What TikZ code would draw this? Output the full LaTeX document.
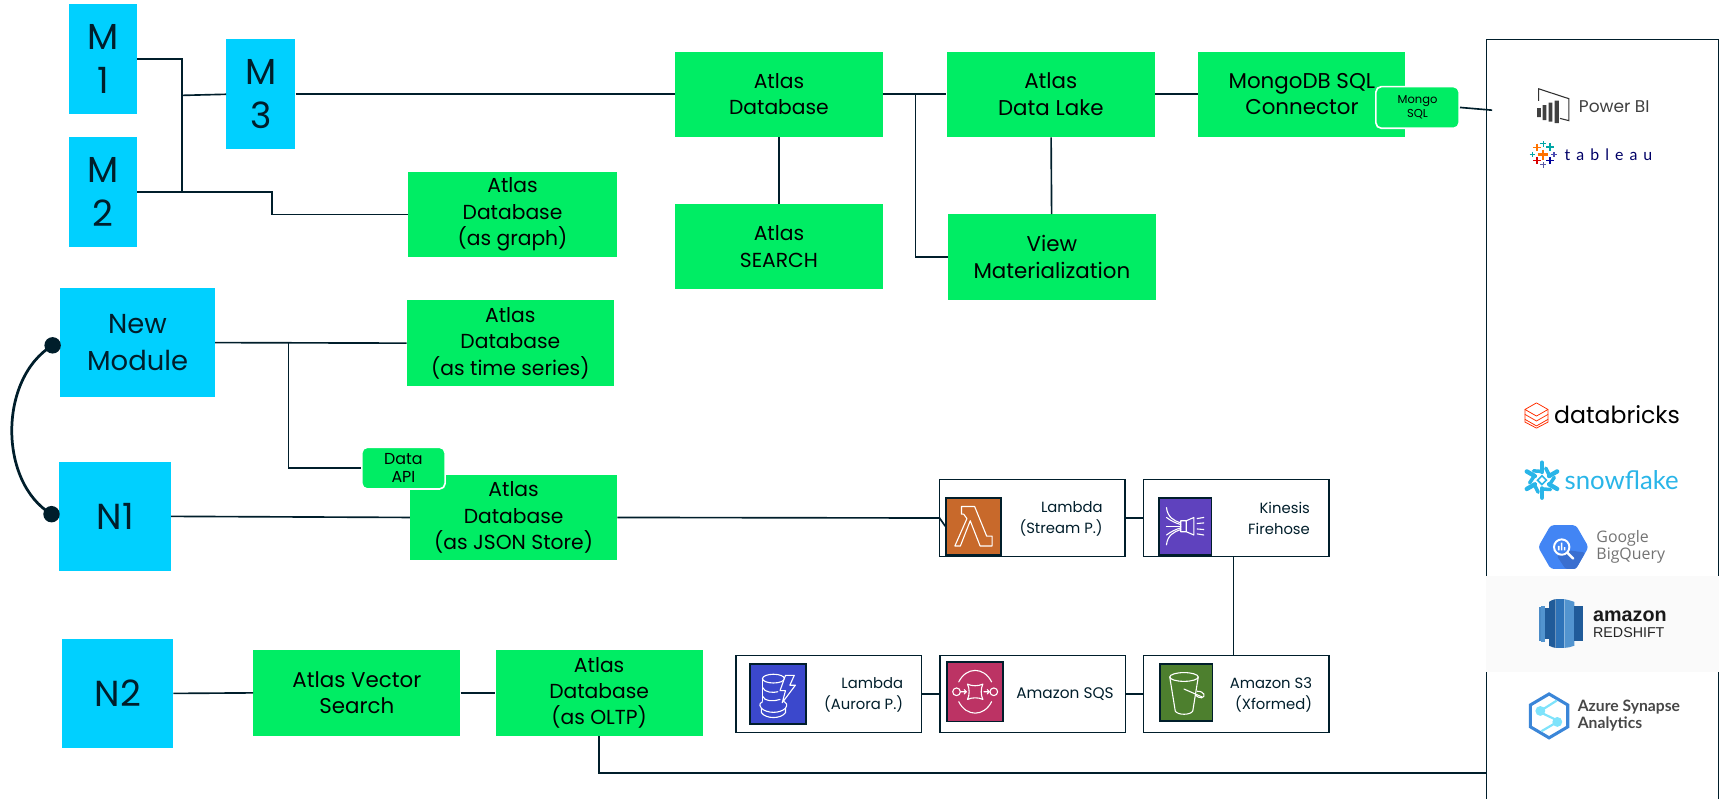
\documentclass[tikz,border=0pt]{standalone}
\usepackage{fontspec}
\setmainfont{Poppins}
\newfontfamily\latofont{Lato}
\newfontfamily\libfont{Liberation Sans}
\newfontfamily\opfont{Open Sans}
\usetikzlibrary{calc,shapes.geometric}
\definecolor{ink}{HTML}{001E2B}
\definecolor{mgreen}{HTML}{00ED64}
\definecolor{mblue}{HTML}{00D0FF}
\definecolor{cLam}{HTML}{C8692B}
\definecolor{cKin}{HTML}{5F42BE}
\definecolor{cAur}{HTML}{3B48CC}
\definecolor{cSqs}{HTML}{BC3364}
\definecolor{cS3}{HTML}{4D7F2E}
\definecolor{snow}{HTML}{29B5E8}
\definecolor{bqb}{HTML}{4285F4}
\definecolor{bqd}{HTML}{3A6FD0}
\definecolor{rsA}{HTML}{205B99}
\definecolor{rsB}{HTML}{2E73B8}
\definecolor{rsC}{HTML}{5294CF}
\definecolor{synA}{HTML}{3B86D8}
\definecolor{synB}{HTML}{7FE3FB}
\tikzset{
 line/.style={draw=ink,line width=1.5pt},
 gbox/.style={fill=mgreen,minimum width=#1,minimum height=78pt,inner sep=0pt,align=center,font=\fontsize{18.5}{24}\selectfont,text=black,execute at begin node={\rule{0pt}{17pt}}},
 gbig/.style={font=\fontsize{19.5}{24}\selectfont},
 bbox/.style={fill=mblue,inner sep=0pt,align=center,text=ink},
 bigt/.style={font=\fontsize{33}{40}\selectfont},
 tag/.style={fill=mgreen,draw=white,line width=1.5pt,rounded corners=5pt,inner sep=0pt,align=center,text=black},
 svc/.style={draw=ink,line width=1.5pt,fill=white,inner sep=0pt,minimum width=169pt,minimum height=70pt},
 ico/.style={draw=ink,line width=1.5pt,inner sep=0pt},
 glyph/.style={draw=white,line width=1pt,line join=round,line cap=round},
 svct/.style={font=\fontsize{13.5}{19}\selectfont,align=right,text=ink,anchor=east,inner sep=0pt},
}
\newcommand{\tabplus}[5]{\draw[#4,line width=#5pt] ($(#1,#2)+(-#3,0)$)--($(#1,#2)+(#3,0)$) ($(#1,#2)+(0,-#3)$)--($(#1,#2)+(0,#3)$);}
\begin{document}
\begin{tikzpicture}[x=1pt,y=-1pt]
\useasboundingbox (0,0) rectangle (1568,729);
% blue
\node[bbox,bigt,minimum width=62pt,minimum height=100pt] (m1) at (94,54) {M\\1};
\node[bbox,bigt,minimum width=62pt,minimum height=100pt] (m2) at (94,175) {M\\2};
\node[bbox,bigt,minimum width=63pt,minimum height=100pt] (m3) at (238,86) {M\\3};
\node[bbox,minimum width=141pt,minimum height=99pt,font=\fontsize{25}{33}\selectfont] (nm) at (125.500,312.500) {New\\Module};
\node[bbox,bigt,minimum width=102pt,minimum height=100pt] (n1) at (105,471) {N1};
\node[bbox,bigt,minimum width=101pt,minimum height=100pt] (n2) at (107.500,632.500) {N2};
% green
\node[gbox=189pt] (db) at (710.500,86) {Atlas\\Database};
\node[gbox=190pt] (search) at (710.500,225) {Atlas\\SEARCH};
\node[gbox=190pt,gbig] (lake) at (958.500,86) {Atlas\\Data Lake};
\node[gbox=189pt,gbig] (view) at (959.500,234.500) {View\\Materialization};
\node[gbox=189pt,gbig] (conn) at (1187.500,86) {MongoDB SQL\\Connector};
\node[gbox=190pt] (graph) at (467.500,195.500) {Atlas\\Database\\(as graph)};
\node[gbox=189pt] (ts) at (465.500,313) {Atlas\\Database\\(as time series)};
\node[gbox=189pt] (json) at (468.500,472) {Atlas\\Database\\(as JSON Store)};
\node[gbox=189pt,gbig] (vec) at (325.500,632) {Atlas Vector\\Search};
\node[gbox=189pt] (oltp) at (546.500,632) {Atlas\\Database\\(as OLTP)};
\node[tag,minimum width=76pt,minimum height=38pt,font=\fontsize{10.500}{13}\selectfont] (msql) at (1293,98) {Mongo\\SQL};
\node[tag,minimum width=76pt,minimum height=38pt,font=\fontsize{14.500}{17}\selectfont] (api) at (368,427) {Data\\API};
% services
\node[svc] (lam) at (941.500,472.500) {};
\node[svc] (kin) at (1127.500,472.500) {};
\node[svc] (aur) at (756,633) {};
\node[svc] (sqs) at (942,633) {};
\node[svc] (s3) at (1127.500,633) {};
\node[ico,fill=cLam,minimum width=50pt,minimum height=52pt] (ilam) at (888,480) {};
\node[ico,fill=cKin,minimum width=48pt,minimum height=52pt] (ikin) at (1081,480) {};
\node[ico,fill=cAur,minimum width=51pt,minimum height=55pt] (iaur) at (709.500,633) {};
\node[ico,fill=cSqs,minimum width=51pt,minimum height=54pt] (isqs) at (889.500,631) {};
\node[ico,fill=cS3,minimum width=48pt,minimum height=52pt] (is3) at (1082,631.500) {};
\node[svct] (tlam) at (1006,473) {Lambda\\(Stream P.)};
\node[svct] (tkin) at (1195,473) {Kinesis\\Firehose};
\node[svct] (taur) at (824,634) {Lambda\\(Aurora P.)};
\node[svct,font=\fontsize{14}{19}\selectfont] (tsqs) at (1016,633) {Amazon SQS};
\node[svct] (ts3) at (1197,634) {Amazon S3\\(Xformed)};
% icon glyphs
\begin{scope}[shift={(ilam.center)}]
\draw[glyph] (-11,-18)--(1,-18)--(12,9)--(17,9)--(17,18)--(6,18)--(-3,-5)--(-12,18)--(-17,18)--(-6,-7)--(-9,-11)--(-11,-11)--cycle;
\end{scope}
\begin{scope}[shift={(ikin.center)}]
\draw[glyph] (-4,-5)--(1,-5)--(1,5)--(-4,5)--cycle (1,-5)--(8,-8)--(8,8)--(1,5);
\draw[glyph] (11,-7)--(17,-8) (11,-2.500)--(17,-3) (11,2.500)--(17,3) (11,7)--(17,8);
\draw[glyph] (-17,-17) .. controls (-16,-8) and (-10,-5) .. (-4,-3);
\draw[glyph] (-17,-8) .. controls (-13,-5) and (-9,-3) .. (-4,-1.500);
\draw[glyph] (-17,0)--(-4,0);
\draw[glyph] (-17,8) .. controls (-13,5) and (-9,3) .. (-4,1.500);
\draw[glyph] (-17,17) .. controls (-16,8) and (-10,5) .. (-4,3);
\end{scope}
\begin{scope}[shift={(iaur.center)}]
\draw[glyph] (-4,-14) ellipse [x radius=10pt,y radius=4pt];
\draw[glyph] (-14,-14)--(-14,6) (6,-14)--(6,-8);
\draw[glyph] (-14,-6) .. controls (-12,-1) and (-4,-1) .. (0,-2);
\draw[glyph] (-14,2) .. controls (-12,7) and (-4,7) .. (2,5);
\draw[glyph] (-14,7) .. controls (-18,9) and (-16,12) .. (-15,13) -- (-15,17) .. controls (-11,23) and (3,23) .. (7,17) -- (7,13) .. controls (9,10) and (8,8) .. (6,7);
\draw[glyph] (-15,13) .. controls (-10,18) and (2,18) .. (7,13);
\draw[glyph,fill=cAur] (7,-17)--(15,-17)--(11,-8)--(16,-8)--(4,8)--(7,-3)--(2,-3)--cycle;
\end{scope}
\begin{scope}[shift={(isqs.center)}]
\draw[glyph] (-15,-9) .. controls (-8,-23) and (8,-23) .. (15,-9);
\draw[glyph] (-15,9) .. controls (-8,23) and (8,23) .. (15,9);
\draw[glyph] (-17,0) circle (3.500pt) (17,0) circle (3.500pt);
\draw[glyph] (-7,-7) .. controls (-3,-5) and (3,-5) .. (7,-7) .. controls (5,-3) and (5,3) .. (7,7) .. controls (3,5) and (-3,5) .. (-7,7) .. controls (-5,3) and (-5,-3) .. (-7,-7) -- cycle;
\draw[glyph] (-13,0)--(-8,0) (-10,-2)--(-8,0)--(-10,2) (8,0)--(13,0) (11,-2)--(13,0)--(11,2);
\end{scope}
\begin{scope}[shift={(is3.center)}]
\draw[glyph] (-2,-14) ellipse [x radius=13pt,y radius=4pt];
\draw[glyph] (-15,-14)--(-10,17) .. controls (-8,21) and (4,21) .. (6,17)--(11,-14);
\draw[glyph] (-2,-3)--(14,4);
\draw[glyph] (10,-1) .. controls (17,-1) and (18,4) .. (14,5) .. controls (12,5) and (10,4) .. (9,3);
\end{scope}
% panel
\coordinate (pa) at (1356,36); \coordinate (pb) at (1567.500,36);
\coordinate (pc) at (1356,729); \coordinate (pd) at (1567.500,729);
\draw[line] (pd)--(pb)--(pa)--(pc);
\node[fill=black!2,minimum width=214pt,minimum height=88pt,inner sep=0pt,anchor=west] (rs) at (1355,569) {};
% connectors
\coordinate (j1) at (166,87); \coordinate (j2) at (166,175);
\coordinate (lb) at (857,472.500);
\coordinate (ms) at (1361,100.500);
\draw[line] (94,54)++(31,0)-|(j1);
\draw[line] (m2.east)-|(248,195.500)--(graph.west);
\draw[line] (j1)--(j2);
\draw[line] (j1)--(m3.west);
\draw[line] (m3.east)--(db.west);
\draw[line] (db.east)--(lake.west);
\draw[line] (lake.east)--(conn.west);
\draw[line] (db)--(search);
\draw[line] (lake)--(view);
\draw[line] (835,86)|-(view.west);
\draw[line] (nm.east)--(ts.west);
\draw[line] (263,312.500)|-(api.west);
\draw[line] (n1.east)--(json.west);
\draw[line] (json.east)--(lb)--(ilam.west);
\draw[line] (lam.east)--(kin.west);
\draw[line] ([xshift=-2.500pt]kin.south)--([xshift=-2.500pt]s3.north);
\draw[line] (aur.east)--(sqs.west);
\draw[line] (sqs.east)--(s3.west);
\draw[line] (n2.east)--(vec.west);
\draw[line] (vec.east)--(oltp.west);
\draw[line] (oltp.south)|-(pc|-0,705);
\draw[line] (msql.east)--(ms);
\coordinate (dt) at (48,315); \coordinate (dbt) at (47,469);
\fill[ink] (dt) circle (7.500pt) (dbt) circle (7.500pt);
\draw[draw=ink,line width=2.500pt] (dt) .. controls (-1.500,345) and (-1.500,440) .. (dbt);
% Power BI
\draw[black!80,line width=1pt] (1403.500,92)--(1403.500,81)--(1431,90)--(1431,110)--(1423,108);
\fill[black!75] (1402,98.600) rectangle (1405.500,106.800) (1407,95.800) rectangle (1410.500,109.500) (1412.500,93.700) rectangle (1416,111) (1418,91.800) rectangle (1422,112.400);
\node[font=\fontsize{15.500}{18}\selectfont,text=black!75,anchor=west,inner sep=0pt] (pbi) at (1440,97) {Power BI};
% tableau
\begin{scope}[shift={(1407.500,141)}]
\tabplus{-5.800}{-6.400}{3.500}{orange!90!red}{1.500}
\tabplus{0}{-9.700}{2.500}{teal!70!cyan}{1}
\tabplus{6.400}{-6.700}{3.500}{teal!70!cyan}{1.500}
\tabplus{-9.700}{0}{2.500}{teal!70!cyan}{1}
\tabplus{10}{0}{2.500}{blue!40!gray}{1}
\tabplus{-5.800}{5.500}{3.500}{red!85!black}{1.500}
\tabplus{6.400}{5.500}{3.500}{blue!60!black}{1.500}
\tabplus{0}{9.400}{2.500}{blue!30!gray}{1}
\tabplus{0}{0}{4.500}{orange!90!red}{2}
\end{scope}
\node[font=\latofont\fontsize{14.500}{16}\selectfont\addfontfeature{LetterSpace=38},text=blue!40!black,anchor=west,inner sep=0pt] (tab) at (1427,141) {tableau};
% databricks
\begin{scope}[shift={(1401.500,379)}]
\draw[red!65!orange,line width=0.7pt,line join=round] (0,-11.500)--(10.500,-5.500)--(0,0.500)--(-10.500,-5.500)--cycle;
\draw[red!65!orange,line width=0.7pt,line join=round] (-10.500,-5.500)--(-10.500,-1)--(0,5)--(10.500,-1)--(10.500,-5.500);
\draw[red!65!orange,line width=0.7pt,line join=round] (-10.500,-1)--(-10.500,3.500)--(0,9.500)--(10.500,3.500)--(10.500,-1);
\draw[red!65!orange,line width=0.7pt,line join=round] (-10.500,3.500)--(-10.500,6)--(0,11.500)--(10.500,6)--(10.500,3.500);
\end{scope}
\node[font=\fontsize{21.500}{24}\selectfont,text=black,anchor=west,inner sep=0pt] (dbk) at (1417.500,378.500) {databricks};
% snowflake
\begin{scope}[shift={(1406.500,438)}]
\foreach \a in {30,90,150,210,270,330}{
 \draw[snow,line width=4pt,line cap=round] (\a:7.500)--(\a:16);
 \draw[snow,line width=3.200pt,line cap=round] (\a+60:8)--($(\a:8)!0.5!(\a+60:8)+(\a:5)$);
}
\draw[snow,line width=1.500pt,fill=white] (0,-4)--(4,0)--(0,4)--(-4,0)--cycle;
\end{scope}
\node[font=\latofont\fontsize{23.500}{26}\selectfont,text=snow,anchor=west,inner sep=0pt] (snowt) at (1427,437.500) {snowflake};
% BigQuery
\begin{scope}[shift={(1426,499)}]
\fill[bqb,rounded corners=3pt] (23,0)--(11.500,-20)--(-11.500,-20)--(-23,0)--(-11.500,20)--(11.500,20)--cycle;
\fill[bqd,rounded corners=2pt] (5,3)--(20,5)--(11.500,20)--(2,20)--(-6,8)--cycle;
\draw[white,line width=1.800pt] (-1.500,0) circle (7pt);
\draw[white,line width=2.200pt,line cap=round] (3.500,5)--(9,10.500);
\fill[white] (-5,-1) rectangle (-3.500,3) (-2.300,-4) rectangle (-0.800,3) (0.400,0) rectangle (1.900,3);
\end{scope}
\node[font=\opfont\fontsize{14.500}{16}\selectfont,align=left,text=black!55,anchor=west,inner sep=0pt] (bq) at (1456,499) {Google\\BigQuery};
% Redshift
\fill[rsC!85!rsA] (1404,553.500) rectangle (1406,584.700);
\fill[rsC] (1406,553) rectangle (1409.300,585.500);
\fill[rsA] (1409.300,555) rectangle (1413,583);
\fill[rsA] (1413,549) .. controls (1416,547) and (1418,546.500) .. (1419,546.500) -- (1419,591) .. controls (1417,591) and (1416,590) .. (1413,589) -- cycle;
\fill[rsB] (1419,546.500) -- (1427,546.500) -- (1427,591) -- (1419,591) -- cycle;
\fill[rsC] (1427,546.500) .. controls (1430,547) and (1433,548) .. (1436,549) -- (1436,589) .. controls (1433,590) and (1430,591) .. (1427,591) -- cycle;
\fill[rsA] (1436,553) rectangle (1444,585);
\node[font=\libfont\bfseries\fontsize{18}{20}\selectfont,text=black!90,anchor=west,inner sep=0pt] (az1) at (1453,562) {amazon};
\node[font=\libfont\fontsize{13}{15}\selectfont,text=black!85,anchor=west,inner sep=0pt] (az2) at (1453,577) {REDSHIFT};
% Synapse
\begin{scope}[shift={(1413,653)}]
\draw[synA,line width=2.800pt,line join=miter] (0,-20)--(17,-10)--(17,10)--(0,20)--(-17,10)--(-17,-10)--cycle;
\draw[synB,line width=2pt] (7,-14)--(-8,-4.500) (7.500,5.500)--(-7,14);
\draw[synB,line width=2pt] (-8,-4.500) .. controls (-3,1) and (3,0) .. (7.500,5.500);
\fill[synB] (-8,-4.500) circle (4.500pt) (7.500,5.500) circle (4.500pt);
\end{scope}
\node[font=\latofont\bfseries\fontsize{14.300}{15.500}\selectfont,align=left,text=black!72,anchor=west,inner sep=0pt] (az) at (1439,653) {Azure Synapse\\Analytics};
\end{tikzpicture}
\end{document}
